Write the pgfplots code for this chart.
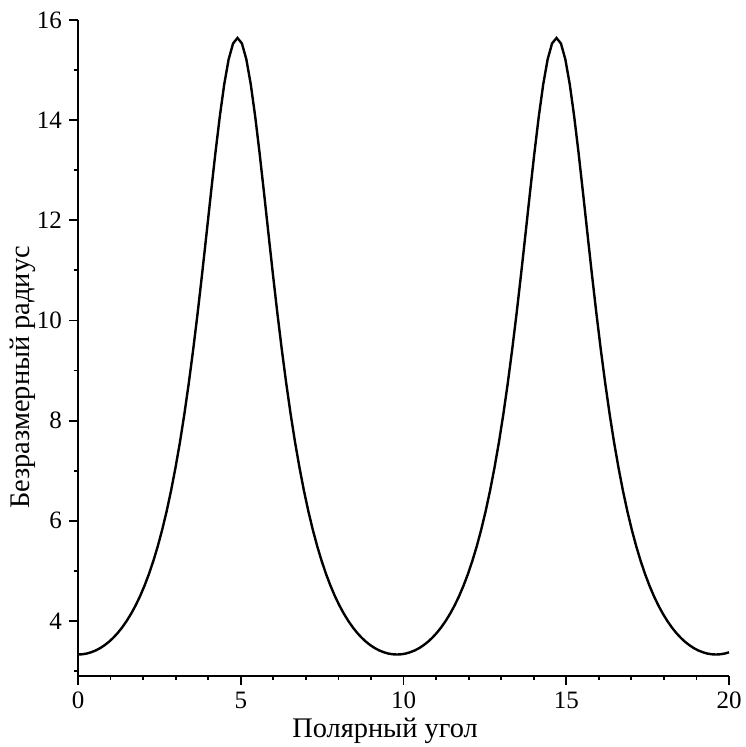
\documentclass[border=0pt]{standalone}
\usepackage{pgfplots}
\pgfplotsset{compat=1.18}
\usepackage{fontspec}
\setmainfont{Liberation Serif}
\begin{document}
\begin{tikzpicture}
\useasboundingbox (-39pt,-35.5pt) rectangle (333.5pt,338pt);
\begin{axis}[
  at={(0,0)}, anchor=south west,
  width=325.5pt, height=328pt, scale only axis,
  xmin=0, xmax=20, ymin=2.9, ymax=16,
  axis lines=left,
  axis line style={-, line width=1pt},
  every tick/.style={line width=0.9pt, black},
  tick align=outside,
  major tick length=4.5pt, minor tick length=2pt,
  xtick={0,5,10,15,20},
  ytick={4,6,8,10,12,14,16},
  minor xtick={1,2,3,4,6,7,8,9,11,12,13,14,16,17,18,19},
  minor ytick={3,5,7,9,11,13,15},
  /pgf/number format/assume math mode=true,
  tick label style={font=\fontsize{12.5}{14}\selectfont},
  xlabel={Полярный угол},
  ylabel={Безразмерный радиус},
  label style={font=\fontsize{14.2}{16}\selectfont},
  xlabel style={at={(axis description cs:0.4716,-0.0838)}, anchor=center},
  ylabel style={at={(axis description cs:-0.085,0.455)}, anchor=center},
  clip=false,
]
\addplot[black, line width=1.2pt] coordinates {
(0,3.329) (0.136,3.334) (0.272,3.349) (0.408,3.375) (0.544,3.410) (0.681,3.457) (0.817,3.515) (0.953,3.584) (1.089,3.667) (1.225,3.763)
(1.361,3.874) (1.497,4.001) (1.633,4.145) (1.769,4.308) (1.906,4.493) (2.042,4.701) (2.178,4.934) (2.314,5.196) (2.450,5.490) (2.586,5.819)
(2.722,6.187) (2.858,6.598) (2.994,7.056) (3.131,7.565) (3.267,8.127) (3.403,8.746) (3.539,9.420) (3.675,10.146) (3.811,10.918) (3.947,11.722)
(4.083,12.536) (4.219,13.331) (4.356,14.072) (4.492,14.714) (4.628,15.214) (4.764,15.532) (4.900,15.641)
(5.036,15.532) (5.172,15.214) (5.308,14.714) (5.444,14.072) (5.581,13.331) (5.717,12.536) (5.853,11.722) (5.989,10.918) (6.125,10.146) (6.261,9.420)
(6.397,8.746) (6.533,8.127) (6.669,7.565) (6.806,7.056) (6.942,6.598) (7.078,6.187) (7.214,5.819) (7.350,5.490) (7.486,5.196) (7.622,4.934)
(7.758,4.701) (7.894,4.493) (8.031,4.308) (8.167,4.145) (8.303,4.001) (8.439,3.874) (8.575,3.763) (8.711,3.667) (8.847,3.584) (8.983,3.515)
(9.119,3.457) (9.256,3.410) (9.392,3.375) (9.528,3.349) (9.664,3.334) (9.800,3.329)
(9.936,3.334) (10.072,3.349) (10.208,3.375) (10.344,3.410) (10.481,3.457) (10.617,3.515) (10.753,3.584) (10.889,3.667) (11.025,3.763)
(11.161,3.874) (11.297,4.001) (11.433,4.145) (11.569,4.308) (11.706,4.493) (11.842,4.701) (11.978,4.934) (12.114,5.196) (12.250,5.490) (12.386,5.819)
(12.522,6.187) (12.658,6.598) (12.794,7.056) (12.931,7.565) (13.067,8.127) (13.203,8.746) (13.339,9.420) (13.475,10.146) (13.611,10.918) (13.747,11.722)
(13.883,12.536) (14.019,13.331) (14.156,14.072) (14.292,14.714) (14.428,15.214) (14.564,15.532) (14.700,15.641)
(14.836,15.532) (14.972,15.214) (15.108,14.714) (15.244,14.072) (15.381,13.331) (15.517,12.536) (15.653,11.722) (15.789,10.918) (15.925,10.146) (16.061,9.420)
(16.197,8.746) (16.333,8.127) (16.469,7.565) (16.606,7.056) (16.742,6.598) (16.878,6.187) (17.014,5.819) (17.150,5.490) (17.286,5.196) (17.422,4.934)
(17.558,4.701) (17.694,4.493) (17.831,4.308) (17.967,4.145) (18.103,4.001) (18.239,3.874) (18.375,3.763) (18.511,3.667) (18.647,3.584) (18.783,3.515)
(18.919,3.457) (19.056,3.410) (19.192,3.375) (19.328,3.349) (19.464,3.334) (19.600,3.329) (19.736,3.334) (19.872,3.349) (20.000,3.373)
};
\end{axis}
\end{tikzpicture}
\end{document}
